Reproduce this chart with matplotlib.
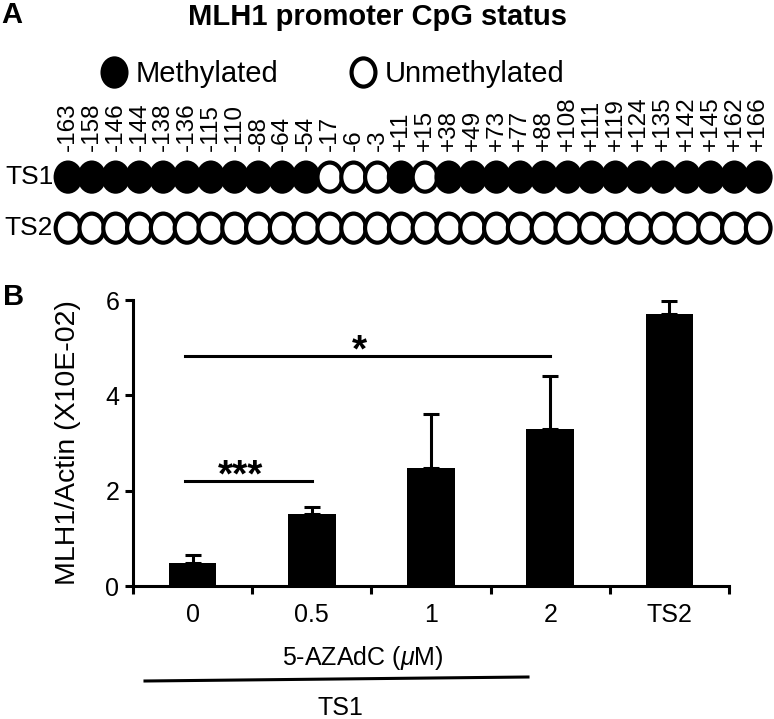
import numpy as np
import matplotlib.pyplot as plt
from matplotlib.markers import MarkerStyle
from matplotlib.transforms import Affine2D
from matplotlib.lines import Line2D

plt.rcParams['font.family'] = ['Liberation Sans', 'DejaVu Sans']
plt.rcParams['mathtext.fontset'] = 'custom'
plt.rcParams['mathtext.rm'] = 'Liberation Sans'
plt.rcParams['mathtext.it'] = 'Liberation Sans:italic'

# --- panel A: CpG methylation status ---
cpg_sites = ['-163', '-158', '-146', '-144', '-138', '-136', '-115', '-110',
             '-88', '-64', '-54', '-17', '-6', '-3', '+11', '+15', '+38',
             '+49', '+73', '+77', '+88', '+108', '+111', '+119', '+124',
             '+135', '+142', '+145', '+162', '+166']
ts1_meth = [1, 1, 1, 1, 1, 1, 1, 1, 1, 1, 1, 0, 0, 0, 1, 0, 1, 1, 1, 1,
            1, 1, 1, 1, 1, 1, 1, 1, 1, 1]
ts2_meth = [0, 0, 0, 0, 0, 0, 0, 0, 0, 0, 0, 0, 0, 0, 0, 0, 0, 0, 0, 0,
            0, 0, 0, 0, 0, 0, 0, 0, 0, 0]
rows = ['TS1', 'TS2']

# --- panel B: MLH1 expression ---
groups = ['0', '0.5', '1', '2', 'TS2']
means = [0.48, 1.52, 2.47, 3.29, 5.70]
errs = [0.17, 0.14, 1.13, 1.11, 0.27]
sig = [(0, 1, '***', 2.2), (0, 3, '*', 4.82)]

W, H = 774, 719
fig = plt.figure(figsize=(W / 100, H / 100), dpi=100)

# ellipse marker (circles look a bit taller than wide)
ell = MarkerStyle('o', transform=Affine2D().scale(1, 1.18))

axA = fig.add_axes([0, (H - 270) / H, 1, 270 / H])
axA.set_xlim(-68 / 23.8, (W - 68) / 23.8)
axA.set_ylim(1.82, -3.47)
axA.axis('off')

for r, status in enumerate([ts1_meth, ts2_meth]):
    xs = np.arange(len(status))
    fc = ['black' if s else 'white' for s in status]
    axA.scatter(xs, np.full(len(xs), r), s=315, marker=ell, facecolors=fc,
                edgecolors='black', linewidths=3.0, zorder=3)
    axA.text(-0.62, r, rows[r], ha='right', va='center', fontsize=19)

for i, lab in enumerate(cpg_sites):
    axA.text(i, -0.52, lab, rotation=90, ha='center', va='bottom', fontsize=17.5)

handles = [Line2D([], [], ls='none', marker=ell, ms=17.2, mfc='black',
                  mec='black', mew=3.0),
           Line2D([], [], ls='none', marker=ell, ms=17.2, mfc='white',
                  mec='black', mew=3.0)]
fig.legend(handles, ['Methylated', 'Unmethylated'], loc='center left',
           bbox_to_anchor=(99 / W, 1 - 74 / H), ncol=2, fontsize=21,
           frameon=False, borderpad=0, borderaxespad=0, handlelength=1.0,
           handletextpad=0.25, columnspacing=2.4)

fig.text(377 / W, 1 - 17 / H, 'MLH1 promoter CpG status', ha='center',
         va='center', fontsize=21, fontweight='bold')
fig.text(12 / W, 1 - 15 / H, 'A', ha='center', va='center', fontsize=21,
         fontweight='bold')
fig.text(14 / W, 1 - 297 / H, 'B', ha='center', va='center', fontsize=21,
         fontweight='bold')

# --- bar chart ---
ax = fig.add_axes([133 / W, 133 / H, 596 / W, 286 / H])
x = np.arange(len(groups))
ax.bar(x, means, width=0.4, color='black')
ax.errorbar(x, means, yerr=[np.zeros(len(errs)), errs], fmt='none',
            ecolor='black', elinewidth=2.2, capsize=6, capthick=2.2)
ax.set_xlim(-0.5, 4.5)
ax.set_ylim(0, 6)
for s in ['top', 'right']:
    ax.spines[s].set_visible(False)
for s in ['left', 'bottom']:
    ax.spines[s].set_linewidth(2.2)
ax.set_xticks(np.arange(-0.5, 5, 1))
ax.set_xticklabels([])
ax.set_xticks(x, minor=True)
ax.set_xticklabels(groups, minor=True)
ax.tick_params(axis='x', which='major', length=5.8, width=2.2)
ax.tick_params(axis='x', which='minor', length=0, pad=12, labelsize=18)
ax.set_yticks([0, 2, 4, 6])
ax.tick_params(axis='y', length=5.8, width=2.2, pad=4, labelsize=18)
ax.set_ylabel('MLH1/Actin (X10E-02)', fontsize=20.5)
ax.yaxis.set_label_coords(-0.087, 0.5)

for i, j, star, h in sig:
    ax.plot([i - 0.06, j], [h, h], color='black', lw=2.2)
    ax.text((i + j) / 2 - 0.1, h - 0.12, star, ha='center', va='baseline',
            fontsize=28, fontweight='bold')

fig.text(363 / W, 1 - 658 / H, r'5-AZAdC ($\mu$M)', ha='center', va='center',
         fontsize=18)
fig.add_artist(Line2D([145 / W, 528 / W], [1 - 681 / H, 1 - 677 / H],
                      color='black', lw=2.2))
fig.text(340 / W, 1 - 708 / H, 'TS1', ha='center', va='center', fontsize=18)

fig.savefig('out.png', dpi=100)
